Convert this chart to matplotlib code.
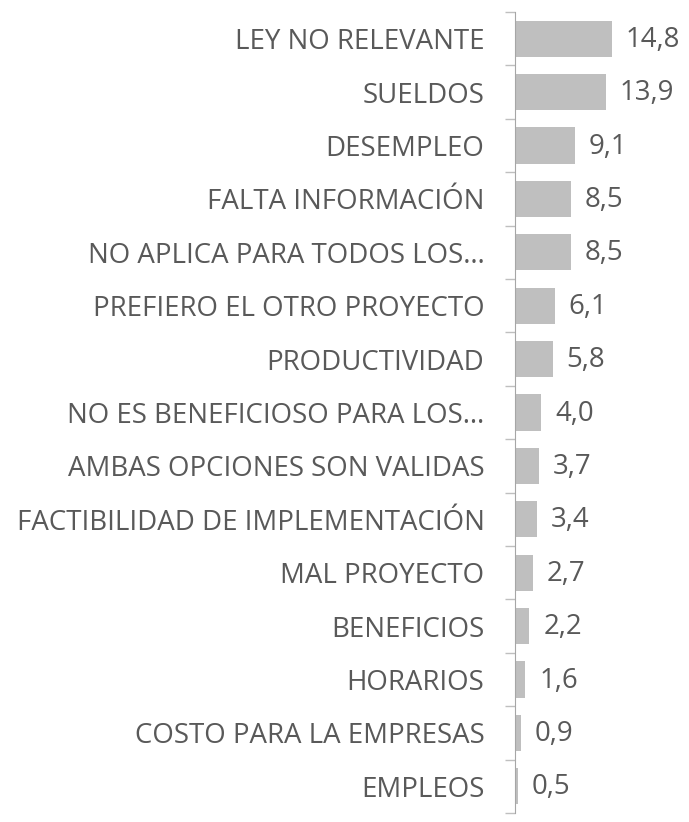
import numpy as np
import matplotlib.pyplot as plt
from matplotlib.ticker import FixedLocator

categorias = [
    "LEY NO RELEVANTE", "SUELDOS", "DESEMPLEO", "FALTA INFORMACIÓN",
    "NO APLICA PARA TODOS LOS…", "PREFIERO EL OTRO PROYECTO", "PRODUCTIVIDAD",
    "NO ES BENEFICIOSO PARA LOS…", "AMBAS OPCIONES SON VALIDAS",
    "FACTIBILIDAD DE IMPLEMENTACIÓN", "MAL PROYECTO", "BENEFICIOS",
    "HORARIOS", "COSTO PARA LA EMPRESAS", "EMPLEOS",
]
porcentajes = [14.8, 13.9, 9.1, 8.5, 8.5, 6.1, 5.8, 4.0, 3.7, 3.4, 2.7, 2.2, 1.6, 0.9, 0.5]

plt.rcParams['font.family'] = ['Open Sans', 'DejaVu Sans']
texto = '#595959'
tam = 19.9

fig = plt.figure(figsize=(6.89, 8.22), dpi=100)
ax = fig.add_axes([515 / 689, 9 / 822, 174 / 689, 801 / 822])

y = np.arange(len(categorias))
ax.barh(y, porcentajes, height=0.68, color='#BFBFBF')
ax.set_ylim(len(categorias) - 0.5, -0.5)
ax.set_xlim(0, 26.6)

for yi, v in zip(y, porcentajes):
    ax.text(v + 2.1, yi + 0.02, f"{v:.1f}".replace('.', ','), va='center', ha='left',
            fontsize=tam, color=texto)

ax.set_yticks(y)
ax.set_yticklabels(categorias, fontsize=tam, color=texto)
ax.tick_params(axis='y', which='major', length=0, pad=22)
ax.yaxis.set_minor_locator(FixedLocator(np.arange(-0.5, len(categorias), 1.0)))
ax.tick_params(axis='y', which='minor', length=7, width=1, color='#BFBFBF', direction='out')
ax.set_xticks([])

for s in ['top', 'right', 'bottom']:
    ax.spines[s].set_visible(False)
ax.spines['left'].set_color('#A6A6A6')

fig.savefig('out.png', dpi=100)
